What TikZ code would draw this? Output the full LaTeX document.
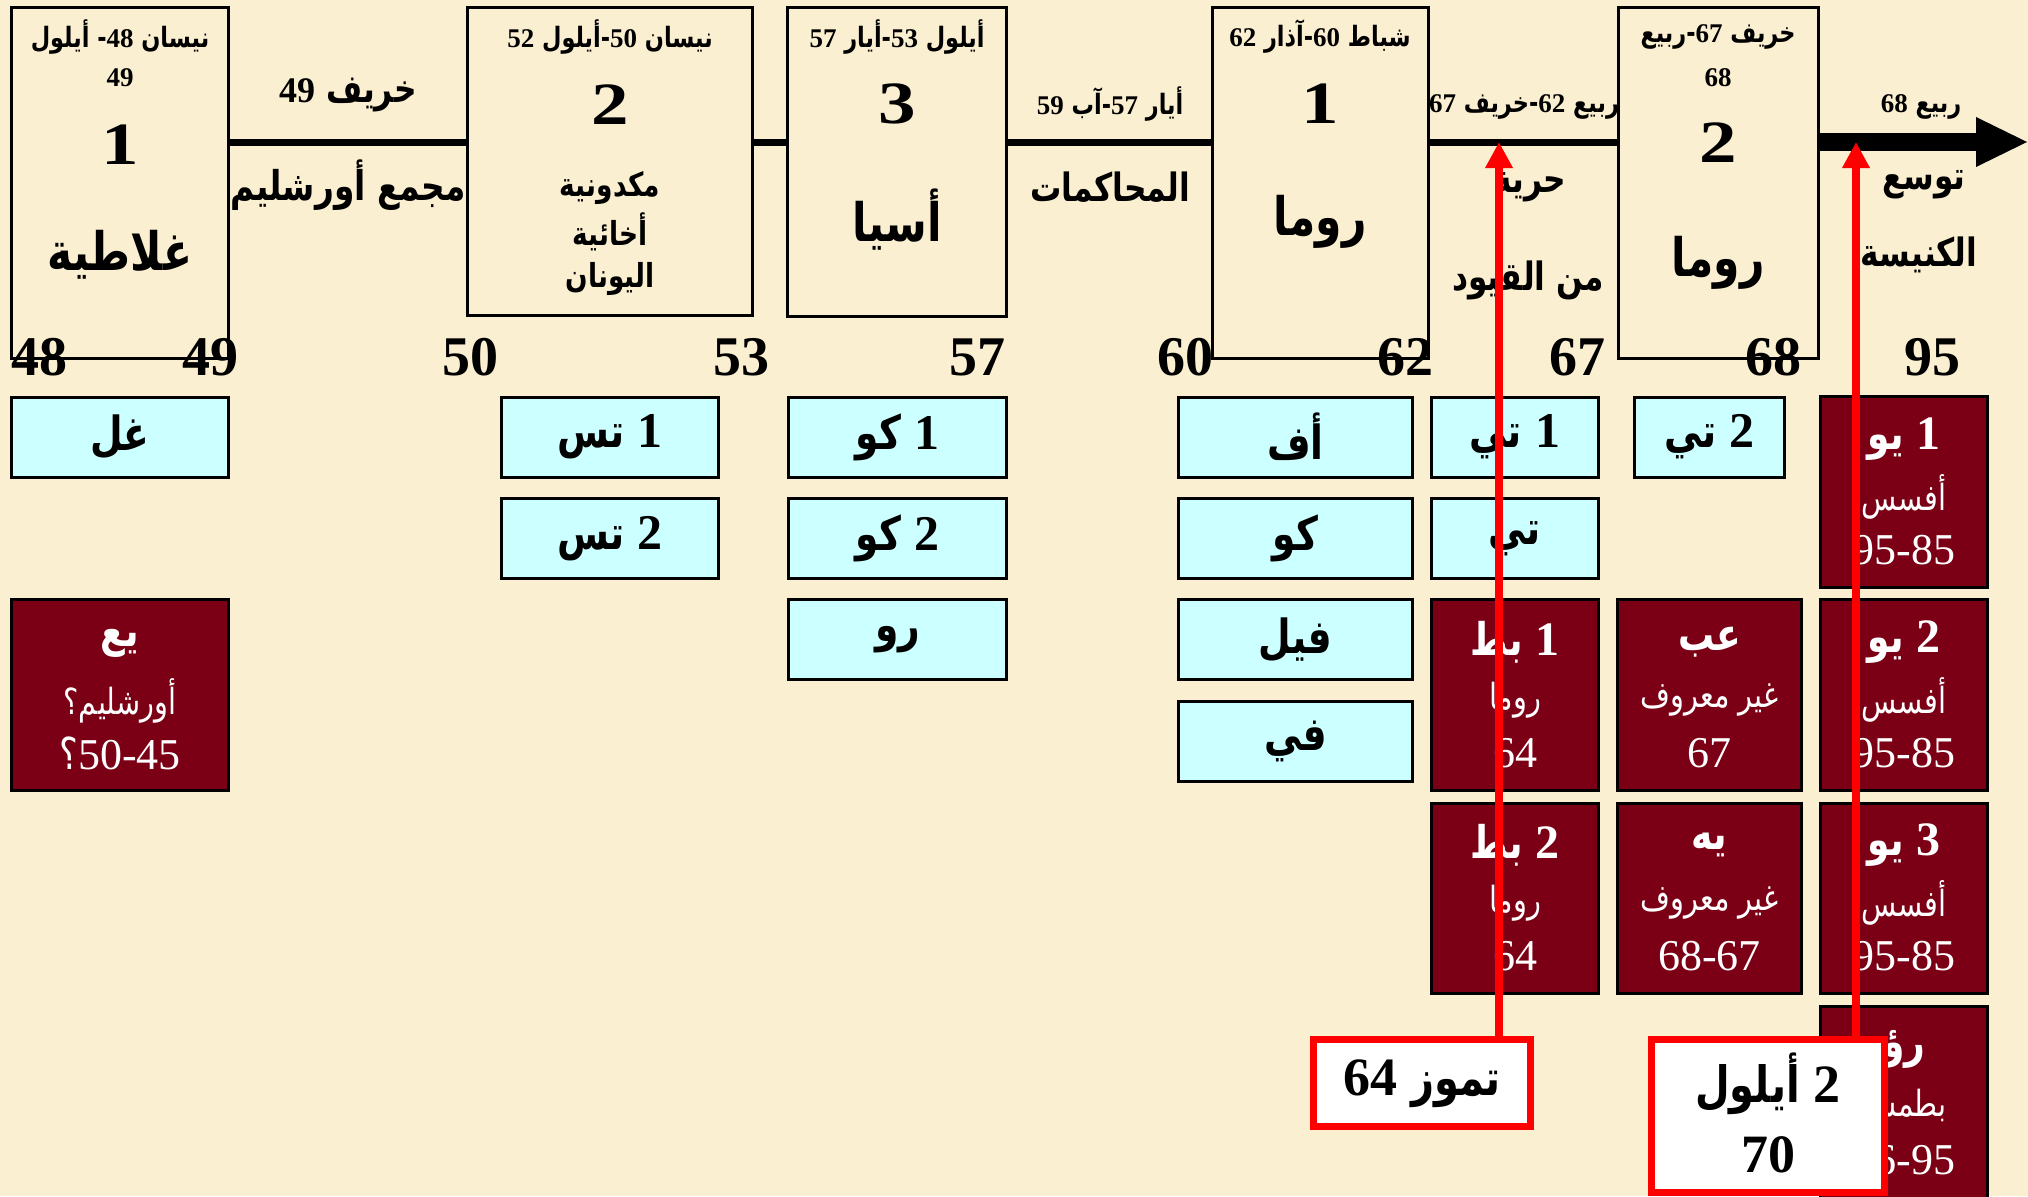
\documentclass[tikz,border=0pt]{standalone}
\usepackage{fontspec}
\usetikzlibrary{arrows.meta}
\TeXXeTstate=1
\newfontfamily\arb[Script=Arabic,FakeStretch=0.8]{DejaVu Sans}
\newfontfamily\tnr{Liberation Serif}
\newfontfamily\tnrw[FakeStretch=1.25]{Liberation Serif}
\definecolor{bgc}{HTML}{FBEFD1}
\definecolor{cyc}{HTML}{CCFFFF}
\definecolor{mrc}{HTML}{7B0016}
\newcommand\setsz[2]{\fontsize{#1}{#1}\selectfont\def\dsz{#2}}
\newcommand\Dg[1]{{\tnr\fontsize{\dsz}{\dsz}\selectfont #1}}
\begin{document}
\begin{tikzpicture}[x=1pt,y=-1pt,
  topbox/.style={draw, line width=3pt, inner sep=0pt},
  cb/.style={draw, fill=cyc, line width=3pt, inner sep=0pt, minimum height=80pt,
    font=\arb\bfseries\setsz{47}{50}},
  mb/.style={draw, fill=mrc, line width=3pt, inner sep=0pt},
  rbx/.style={draw=red, fill=white, line width=7pt, inner sep=0pt},
  lbl/.style={inner sep=0pt},
  hdr/.style={lbl, font=\arb\bfseries\setsz{28}{27}},
  bigd/.style={lbl, font=\tnrw\bfseries\fontsize{60}{60}\selectfont},
  place/.style={lbl, font=\arb\bfseries\setsz{53}{50}},
  small/.style={lbl, font=\arb\bfseries\setsz{33}{30}},
  gap/.style={lbl, font=\arb\bfseries\setsz{39}{36}},
  num/.style={lbl, font=\tnr\bfseries\fontsize{56}{56}\selectfont},
  mt1/.style={lbl, text=white, font=\arb\bfseries\setsz{45}{48}},
  mt2/.style={lbl, text=white, font=\arb\setsz{36}{40}},
  mt3/.style={lbl, text=white, font=\tnr\fontsize{44}{44}\selectfont},
  rt/.style={lbl, font=\arb\bfseries\setsz{50}{54}},
  tl/.style={line width=7pt},
  redln/.style={draw=red, line width=8pt, -{Triangle[length=26pt,width=26pt]}}
]
\useasboundingbox (0,0) rectangle (2028,1196);
\clip (0,0) rectangle (2028,1196);
\fill[bgc] (0,0) rectangle (2028,1196);

% ---------- top boxes ----------
\node[topbox, minimum width=217pt, minimum height=351pt] (b1) at (120,183) {};
\node[topbox, minimum width=285pt, minimum height=308pt] (b2) at (610,161.5) {};
\node[topbox, minimum width=219pt, minimum height=309pt] (b3) at (897,162) {};
\node[topbox, minimum width=216pt, minimum height=351pt] (r1) at (1320.5,183) {};
\node[topbox, minimum width=200pt, minimum height=351pt] (r2) at (1718.5,183) {};

% ---------- timeline ----------
\coordinate (tly) at (0,142);
\draw[tl] (b1.east |- tly) -- (b2.west |- tly);
\draw[tl] (b2.east |- tly) -- (b3.west |- tly);
\draw[tl] (b3.east |- tly) -- (r1.west |- tly);
\draw[tl] (r1.east |- tly) -- (r2.west |- tly);
\coordinate (aht) at (2027,142);
\fill (r2.east |- 0,133) rectangle (1978,151);
\fill (1976,117) -- (aht) -- (1976,167) -- cycle;

% ---------- box texts ----------
\node[hdr] (h1a) at (120,37) {\beginR نيسان \Dg{48}- أيلول\endR};
\node[hdr] (h1b) at (120,78) {\Dg{49}};
\node[bigd] (d1) at (120,145) {1};
\node[place] (p1) at (120,255) {\beginR غلاطية\endR};

\node[hdr] (h2) at (610,37) {\beginR نيسان \Dg{50}-أيلول \Dg{52}\endR};
\node[bigd] (d2) at (610,105) {2};
\node[small] (p2a) at (610,188) {\beginR مكدونية\endR};
\node[small] (p2b) at (610,232) {\beginR أخائية\endR};
\node[small] (p2c) at (610,279) {\beginR اليونان\endR};

\node[hdr] (h3) at (897,37) {\beginR أيلول \Dg{53}-أيار \Dg{57}\endR};
\node[bigd] (d3) at (897,104) {3};
\node[place] (p3) at (897,220) {\beginR أسيا\endR};

\node[hdr] (h4) at (1320,37) {\beginR شباط \Dg{60}-آذار \Dg{62}\endR};
\node[bigd] (d4) at (1320,104) {1};
\node[place] (p4) at (1320,222) {\beginR روما\endR};

\node[hdr] (h5a) at (1718,37) {\beginR خريف \Dg{67}-ربيع\endR};
\node[hdr] (h5b) at (1718,78) {\Dg{68}};
\node[bigd] (d5) at (1718,143) {2};
\node[place] (p5) at (1718,263) {\beginR روما\endR};

% ---------- gap labels ----------
\node[gap] (g1a) at (348,95) {\beginR خريف \Dg{49}\endR};
\node[gap, font=\arb\bfseries\setsz{41}{36}] (g1b) at (348,185) {\beginR مجمع أورشليم\endR};
\node[hdr] (g3a) at (1110,104) {\beginR أيار \Dg{57}-آب \Dg{59}\endR};
\node[gap] (g3b) at (1110,187) {\beginR المحاكمات\endR};
\node[hdr] (g4a) at (1524,107) {\beginR ربيع \Dg{62}-خريف \Dg{67}\endR};
\node[gap] (g4b) at (1530,187) {\beginR حرية\endR};
\node[gap] (g4c) at (1528,280) {\beginR من القيود\endR};
\node[hdr] (g5a) at (1921,107) {\beginR ربيع \Dg{68}\endR};
\node[gap] (g5b) at (1924,185) {\beginR توسع\endR};
\node[gap] (g5c) at (1919,255) {\beginR الكنيسة\endR};

% ---------- timeline numbers ----------
\node[num] (n48) at (39,357) {48};
\node[num] (n49) at (210,357) {49};
\node[num] (n50) at (470,357) {50};
\node[num] (n53) at (741,357) {53};
\node[num] (n57) at (977,357) {57};
\node[num] (n60) at (1185,357) {60};
\node[num] (n62) at (1405,357) {62};
\node[num] (n67) at (1577,357) {67};
\node[num] (n68) at (1773,357) {68};
\node[num] (n95) at (1932,357) {95};

% ---------- cyan boxes ----------
\node[cb, minimum width=217pt] (cA1) at (120,437) {\beginR غل\endR};
\node[cb, minimum width=217pt] (cB1) at (610,437) {\beginR\Dg{1} تس\endR};
\node[cb, minimum width=217pt] (cB2) at (610,538.5) {\beginR\Dg{2} تس\endR};
\node[cb, minimum width=218pt] (cC1) at (897.5,437) {\beginR\Dg{1} كو\endR};
\node[cb, minimum width=218pt] (cC2) at (897.5,538.5) {\beginR\Dg{2} كو\endR};
\node[cb, minimum width=218pt] (cC3) at (897.5,639.5) {\beginR رو\endR};
\node[cb, minimum width=234pt] (cD1) at (1295.5,437) {\beginR أف\endR};
\node[cb, minimum width=234pt] (cD2) at (1295.5,538.5) {\beginR كو\endR};
\node[cb, minimum width=234pt] (cD3) at (1295.5,639.5) {\beginR فيل\endR};
\node[cb, minimum width=234pt] (cD4) at (1295.5,741.5) {\beginR في\endR};
\node[cb, minimum width=167pt] (cE1) at (1515,437) {\beginR\Dg{1} تي\endR};
\node[cb, minimum width=167pt] (cE2) at (1515,538.5) {\beginR تي\endR};
\node[cb, minimum width=150pt] (cF1) at (1709.5,437) {\beginR\Dg{2} تي\endR};

% ---------- maroon boxes ----------
\node[mb, minimum width=217pt, minimum height=191pt] (mA) at (120,695) {};
\node[mt1] (mA1) at (120,643) {\beginR يع\endR};
\node[mt2] (mA2) at (120,701) {\beginR أورشليم؟\endR};
\node[mt3] (mA3) at (120,753) {{\arb ؟}50-45};

\node[mb, minimum width=167pt, minimum height=191pt] (mG1) at (1904,492) {};
\node[mt1] (mG1a) at (1904,439) {\beginR\Dg{1} يو\endR};
\node[mt2] (mG1b) at (1904,497) {\beginR أفسس\endR};
\node[mt3] (mG1c) at (1904,550) {95-85};

\node[mb, minimum width=167pt, minimum height=191pt] (mE1) at (1515,695) {};
\node[mt1] (mE1a) at (1515,642) {\beginR\Dg{1} بط\endR};
\node[mt2] (mE1b) at (1515,700) {\beginR روما\endR};
\node[mt3] (mE1c) at (1515,753) {64};

\node[mb, minimum width=184pt, minimum height=191pt] (mF1) at (1709.5,695) {};
\node[mt1] (mF1a) at (1709.5,642) {\beginR عب\endR};
\node[mt2] (mF1b) at (1709.5,700) {\beginR غير معروف\endR};
\node[mt3] (mF1c) at (1709.5,753) {67};

\node[mb, minimum width=167pt, minimum height=191pt] (mG2) at (1904,695) {};
\node[mt1] (mG2a) at (1904,642) {\beginR\Dg{2} يو\endR};
\node[mt2] (mG2b) at (1904,700) {\beginR أفسس\endR};
\node[mt3] (mG2c) at (1904,753) {95-85};

\node[mb, minimum width=167pt, minimum height=190pt] (mE2) at (1515,898.5) {};
\node[mt1] (mE2a) at (1515,845) {\beginR\Dg{2} بط\endR};
\node[mt2] (mE2b) at (1515,903) {\beginR روما\endR};
\node[mt3] (mE2c) at (1515,956) {64};

\node[mb, minimum width=184pt, minimum height=190pt] (mF2) at (1709.5,898.5) {};
\node[mt1] (mF2a) at (1709.5,845) {\beginR يه\endR};
\node[mt2] (mF2b) at (1709.5,903) {\beginR غير معروف\endR};
\node[mt3] (mF2c) at (1709.5,956) {68-67};

\node[mb, minimum width=167pt, minimum height=190pt] (mG3) at (1904,898.5) {};
\node[mt1] (mG3a) at (1904,845) {\beginR\Dg{3} يو\endR};
\node[mt2] (mG3b) at (1904,903) {\beginR أفسس\endR};
\node[mt3] (mG3c) at (1904,956) {95-85};

\node[mb, minimum width=167pt, minimum height=210pt] (mG4) at (1904,1111) {};
\node[mt1] (mG4a) at (1904,1049) {\beginR رؤ\endR};
\node[mt2] (mG4b) at (1904,1107) {\beginR بطمس\endR};
\node[mt3] (mG4c) at (1904,1160) {96-95};

% ---------- red notes ----------
\node[rbx, minimum width=217pt, minimum height=87pt] (rb1) at (1422,1083) {};
\node[rt] (rb1t) at (1422,1084) {\beginR تموز \Dg{64}\endR};
\node[rbx, minimum width=233pt, minimum height=153pt] (rb2) at (1768,1116) {};
\node[rt] (rb2a) at (1768,1084) {\beginR\Dg{2} أيلول\endR};
\node[rt] (rb2b) at (1768,1155) {\Dg{70}};

\coordinate (t1) at (1499,142);
\coordinate (t2) at (1856,142);
\draw[redln] (rb1.north -| t1) -- (t1);
\draw[redln] (rb2.north -| t2) -- (t2);
\end{tikzpicture}
\end{document}
